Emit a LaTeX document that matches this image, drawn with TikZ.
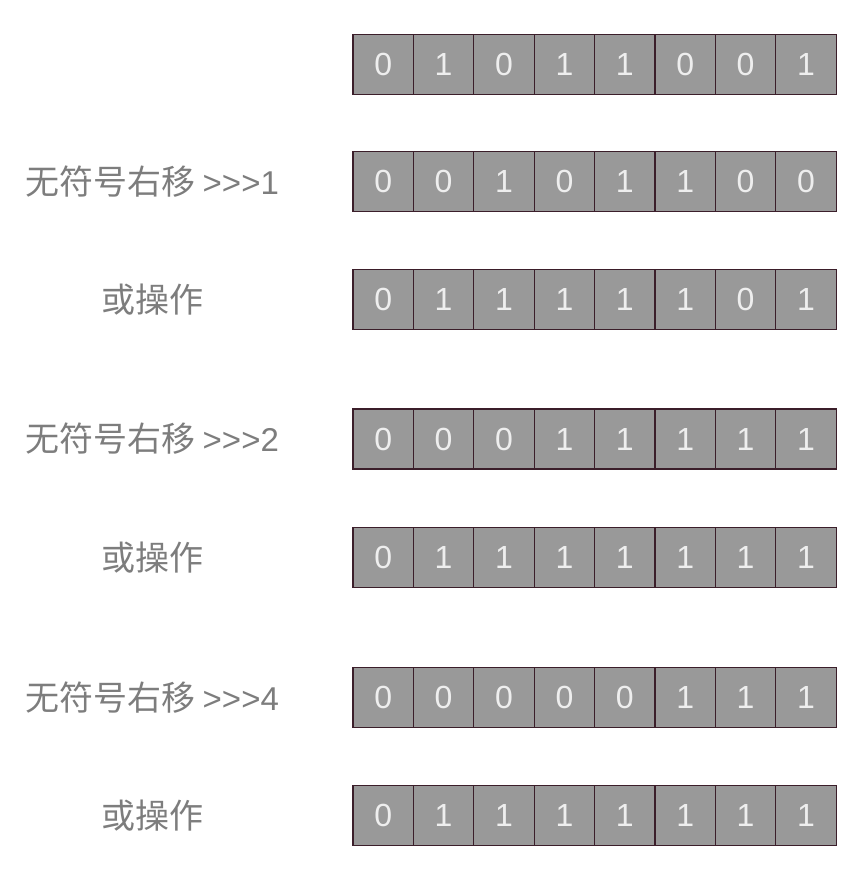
\documentclass[tikz,border=0pt]{standalone}
\usepackage{fontspec}
\newfontfamily\cjk{Noto Sans CJK SC}
\newfontfamily\digitfont{Liberation Sans}
\definecolor{cellfill}{HTML}{999999}
\definecolor{celledge}{HTML}{3B1E2A}
\definecolor{celltext}{HTML}{EEEEEE}
\definecolor{labeltext}{HTML}{7D7D7D}
\newcommand{\shiftlabel}[1]{{\cjk\fontsize{34}{36}\selectfont 无符号右移}\ {\digitfont\fontsize{33}{36}\selectfont >>>#1}}
\tikzset{
  bitcell/.style={draw=celledge, line width=1.1pt, fill=cellfill, minimum width=60.4pt,
    minimum height=60pt, inner sep=0pt, outer sep=0pt, text=celltext,
    font=\digitfont\fontsize{32}{32}\selectfont},
  rowlabel/.style={text=labeltext, inner sep=0pt, font=\cjk\fontsize{34}{36}\selectfont}
}
\begin{document}
\begin{tikzpicture}[x=1pt,y=-1pt]
\useasboundingbox (0,0) rectangle (861,870);
\foreach \r/\top/\bits in {1/34.5/{0,1,0,1,1,0,0,1},2/151.3/{0,0,1,0,1,1,0,0},3/269.5/{0,1,1,1,1,1,0,1},4/409/{0,0,0,1,1,1,1,1},5/527.8/{0,1,1,1,1,1,1,1},6/667.2/{0,0,0,0,0,1,1,1},7/785.8/{0,1,1,1,1,1,1,1}}{
  \foreach \b [count=\c] in \bits {
    \node[bitcell] (r\r c\c) at ({353+60.4*(\c-0.5)},{\top+30}) {\b};
  }
}
\node[rowlabel] (l2) at (152,181.3) {\shiftlabel{1}};
\node[rowlabel] (l3) at (152,299.5) {或操作};
\node[rowlabel] (l4) at (152,439) {\shiftlabel{2}};
\node[rowlabel] (l5) at (152,557.8) {或操作};
\node[rowlabel] (l6) at (152,697.2) {\shiftlabel{4}};
\node[rowlabel] (l7) at (152,815.8) {或操作};
\end{tikzpicture}
\end{document}
